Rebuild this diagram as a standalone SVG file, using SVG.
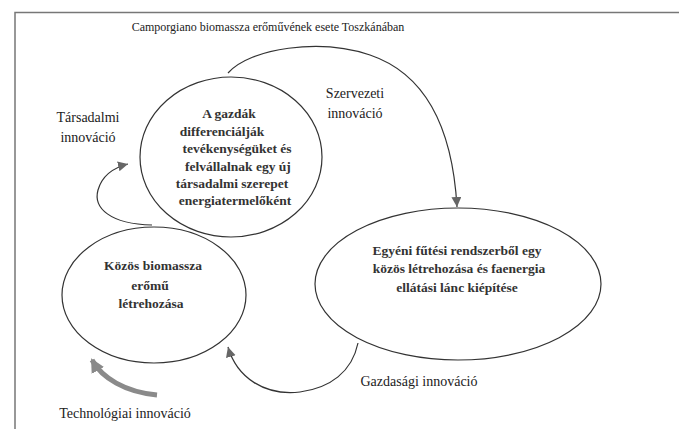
<svg xmlns="http://www.w3.org/2000/svg" width="679" height="429" viewBox="0 0 679 429">
<style>
.frame{stroke:#777;stroke-width:1.5;fill:none}
.node{fill:#fff;stroke:#333;stroke-width:1.2}
.conn{fill:none;stroke:#333;stroke-width:1.2}
.thick{fill:none;stroke:#8a8a8a;stroke-width:5}
.nt{font-size:13.5px;font-weight:bold;fill:#333;text-anchor:middle}
.lt{font-size:14px;fill:#222;text-anchor:middle}
.tt{font-size:12px;fill:#222;text-anchor:middle}
</style>
<defs>
<marker id="ah" markerUnits="userSpaceOnUse" markerWidth="12" markerHeight="12" refX="10" refY="5" orient="auto">
<path d="M0,0 L10,5 L0,10 Z" fill="#666"/>
</marker>
<marker id="ahT" markerUnits="userSpaceOnUse" markerWidth="16" markerHeight="16" refX="12" refY="7" orient="auto">
<path d="M0,0 L14,7 L0,14 Z" fill="#8a8a8a"/>
</marker>
</defs>
<rect width="679" height="429" fill="#fff"/>
<path class="frame" d="M15,429 L15,12.5 L679,12.5"/>
<g font-family="'Liberation Serif', 'DejaVu Serif', serif">
<text class="tt" x="268" y="31">Camporgiano biomassza erőművének esete Toszkánában</text>
</g>
<g id="connectors">
<path class="conn" d="M228,73 C250,48 320,38 370,55 C420,72 452,120 457,207" marker-end="url(#ah)"/>
<path class="conn" d="M152,225 C110,224 93,208 98,190 C102,176 112,168 128,164" marker-end="url(#ah)"/>
<path class="conn" d="M358,343 C352,372 330,388 300,392 C265,396 237,378 228,347" marker-end="url(#ah)"/>
<path class="thick" d="M157,395 C125,392 102,378 92,360" marker-end="url(#ahT)"/>
</g>
<g id="node-gazdak" font-family="'Liberation Serif', 'DejaVu Serif', serif">
<ellipse class="node" cx="231" cy="157" rx="91" ry="80"/>
<text class="nt" x="229" y="118">A gazdák</text>
<text class="nt" x="222" y="136">differenciálják</text>
<text class="nt" x="237" y="153">tevékenységüket és</text>
<text class="nt" x="238" y="171">felvállalnak egy új</text>
<text class="nt" x="232" y="188">társadalmi szerepet</text>
<text class="nt" x="235" y="205">energiatermelőként</text>
</g>
<g id="node-egyeni" font-family="'Liberation Serif', 'DejaVu Serif', serif">
<ellipse class="node" cx="458" cy="284" rx="143" ry="76"/>
<text class="nt" x="457" y="255">Egyéni fűtési rendszerből egy</text>
<text class="nt" x="459" y="273">közös létrehozása és faenergia</text>
<text class="nt" x="457" y="292">ellátási lánc kiépítése</text>
</g>
<g id="node-kozos" font-family="'Liberation Serif', 'DejaVu Serif', serif">
<ellipse class="node" cx="154" cy="295" rx="92" ry="68"/>
<text class="nt" x="153" y="270">Közös biomassza</text>
<text class="nt" x="150" y="290">erőmű</text>
<text class="nt" x="151" y="308">létrehozása</text>
</g>
<g id="labels" font-family="'Liberation Serif', 'DejaVu Serif', serif">
<text class="lt" x="88" y="122">Társadalmi</text>
<text class="lt" x="88" y="142">innováció</text>
<text class="lt" x="355" y="98">Szervezeti</text>
<text class="lt" x="355" y="118">innováció</text>
<text class="lt" x="419" y="386">Gazdasági innováció</text>
<text class="lt" x="125" y="418">Technológiai innováció</text>
</g>
</svg>
